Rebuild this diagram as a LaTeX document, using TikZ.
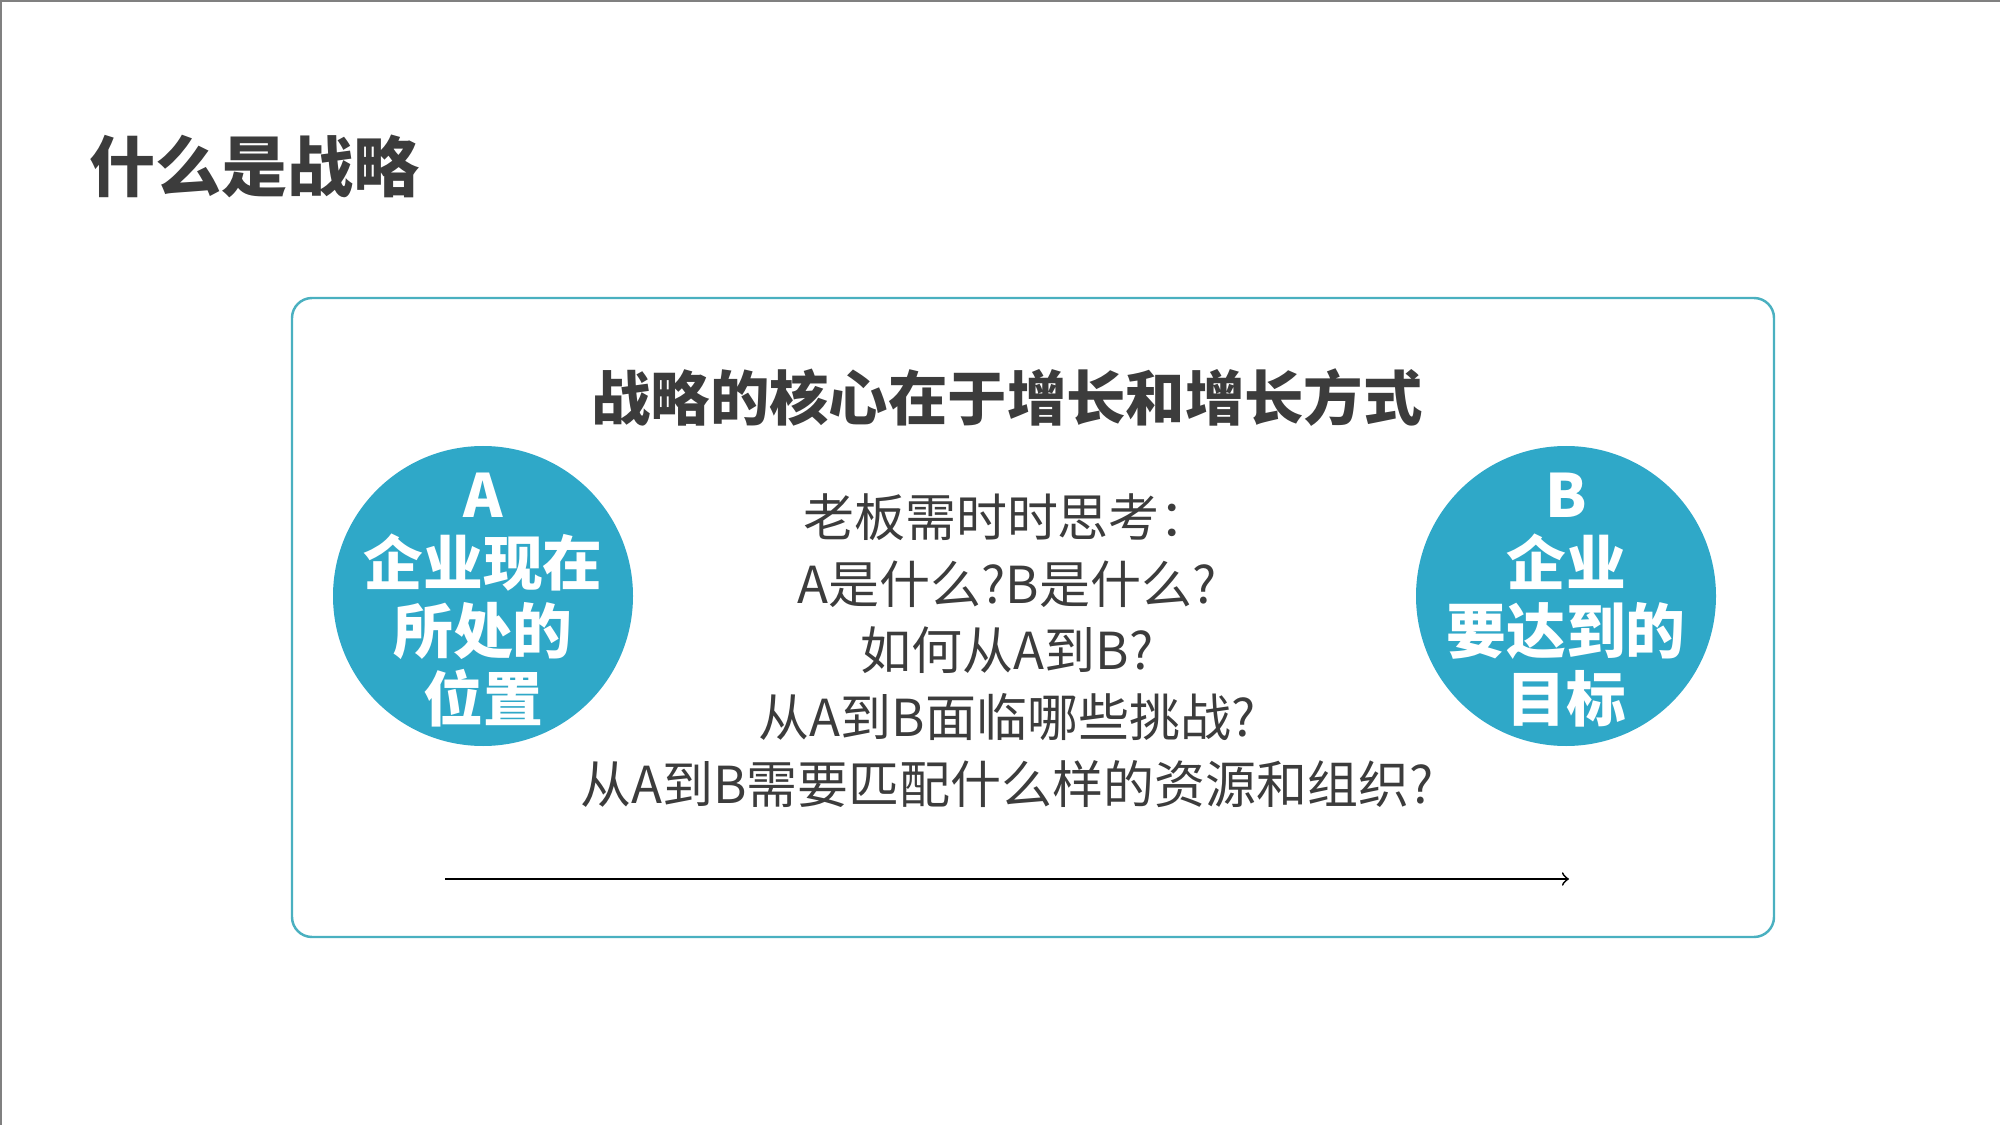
\documentclass[tikz,border=0pt]{standalone}
\usepackage{fontspec}
\setmainfont{Noto Sans CJK SC}
\usetikzlibrary{positioning}
\definecolor{tealline}{HTML}{4AB0C0}
\definecolor{discblue}{HTML}{2FA8C8}
\definecolor{inkgray}{HTML}{3C3C3C}
\begin{document}
\begin{tikzpicture}[scale=1,
	disc/.style={circle, fill=discblue, minimum size=3cm, inner sep=0pt},
	disctext/.style={text=white, font=\fontsize{17}{19.3}\selectfont\bfseries, align=center, inner sep=0pt}]
	\useasboundingbox (0,0) rectangle (20,11.25);
	\draw[gray, line width=1.2pt] (0,0) -- (0,11.25) -- (20,11.25);

\node[anchor=west, text=inkgray, font=\fontsize{18.8}{22}\selectfont\bfseries] (title) at (0.77,9.59) {什么是战略};

\draw[tealline, line width=0.7pt, rounded corners=0.2cm] (2.92,1.88) rectangle (17.74,8.27);

\node[text=inkgray, font=\fontsize{16.9}{19}\selectfont\bfseries] (core) at (10.07,7.27) {战略的核心在于增长和增长方式};

\node[text=inkgray, font=\fontsize{14.5}{19}\selectfont, align=center] (ask) at (10.07,4.745)
	{老板需时时思考：\\A是什么?B是什么?\\如何从A到B?\\从A到B面临哪些挑战?\\从A到B需要匹配什么样的资源和组织?};

\node[disc] (a) at (4.83,5.29) {};
\node[disc] (b) at (15.66,5.29) {};
\node[disctext] (atext) at ([yshift=-0.4mm]a.center) {A\\企业现在\\所处的\\位置};
\node[disctext] (btext) at ([yshift=-0.4mm]b.center) {B\\企业\\要达到的\\目标};

\coordinate (from) at (4.45,2.46);
\coordinate (to) at (15.69,2.46);
\draw[->, line width=0.5pt] (from) -- (to);

\end{tikzpicture}
\end{document}
